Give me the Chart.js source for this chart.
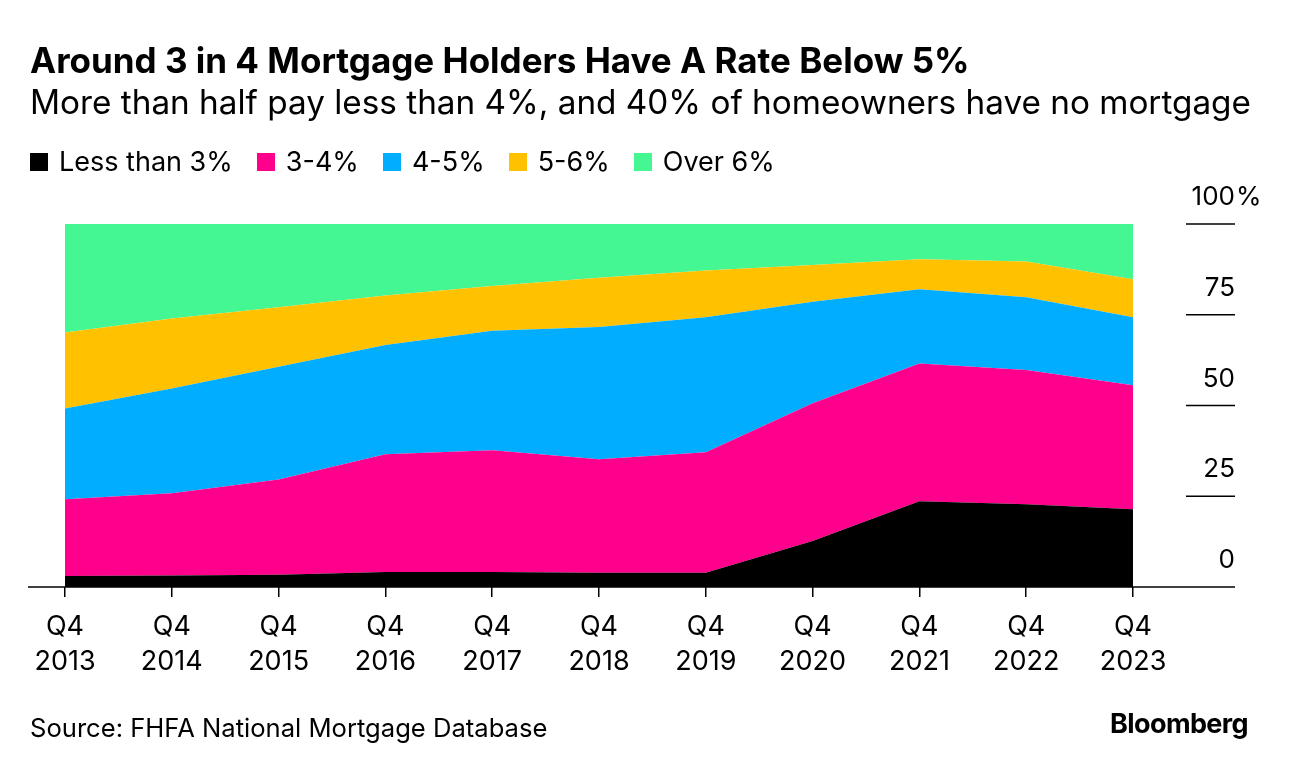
<!DOCTYPE html>
<html>
<head>
<meta charset="utf-8">
<script src="https://cdn.jsdelivr.net/npm/chart.js@4/dist/chart.umd.min.js"></script>
<style>
  html, body { margin: 0; padding: 0; background: #fff; }
  #wrap { position: relative; width: 1289px; height: 770px; overflow: hidden; font-family: Inter, "Liberation Sans", sans-serif; color: #000; }
  #chart { position: absolute; left: 0; top: 0; }
  .txt { position: absolute; white-space: nowrap; line-height: 1; }
  #title { left: 30px; top: 43px; font-size: 35px; font-weight: 700; letter-spacing: 0px; }
  #subtitle { left: 30px; top: 86px; font-size: 33.3px; }
  #legend { left: 30px; top: 148px; font-size: 27px; display: flex; align-items: center; }
  #legend .item { display: flex; align-items: center; margin-right: 24px; }
  #legend .box { width: 18px; height: 18px; margin-right: 11px; }
  #source { left: 30px; top: 715px; font-size: 25.6px; }
  #logo { left: 1110px; top: 710px; font-size: 27px; font-weight: 700; letter-spacing: -0.6px; }
</style>
</head>
<body>
<div id="wrap">
  <canvas id="chart" width="1289" height="770"></canvas>
  <div class="txt" id="title">Around 3 in 4 Mortgage Holders Have A Rate Below 5%</div>
  <div class="txt" id="subtitle">More than half pay less than 4%, and 40% of homeowners have no mortgage</div>
  <div class="txt" id="legend"></div>
  <div class="txt" id="source">Source: FHFA National Mortgage Database</div>
  <div class="txt" id="logo">Bloomberg</div>
</div>
<script>
// share of mortgage holders by rate bucket, %
const quarters = ['2013', '2014', '2015', '2016', '2017', '2018', '2019', '2020', '2021', '2022', '2023'];
const lessThan3 = [3.0, 3.2, 3.4, 4.1, 4.1, 3.9, 3.9, 12.7, 23.6, 22.8, 21.4];
const from3to4  = [21.2, 22.6, 26.2, 32.5, 33.6, 31.3, 33.2, 37.9, 38.0, 37.0, 34.2];
const from4to5  = [25.0, 28.9, 31.1, 30.1, 32.9, 36.4, 37.2, 28.0, 20.4, 20.0, 18.7];
const from5to6  = [20.9, 19.3, 16.4, 13.6, 12.3, 13.6, 12.9, 10.1, 8.3, 9.9, 10.5];
const over6     = [29.9, 26.0, 22.9, 19.7, 17.1, 14.8, 12.8, 11.3, 9.7, 10.3, 15.2];
const seriesNames = ['Less than 3%', '3-4%', '4-5%', '5-6%', 'Over 6%'];
const seriesColors = ['#000000', '#ff008c', '#00adff', '#ffc100', '#44f793'];
const yTicks = [0, 25, 50, 75, 100];

// html legend
const legendEl = document.getElementById('legend');
seriesNames.forEach((name, i) => {
  const item = document.createElement('div');
  item.className = 'item';
  item.innerHTML = '<span class="box" style="background:' + seriesColors[i] + '"></span><span>' + name + '</span>';
  legendEl.appendChild(item);
});

// right hand axis: short rules with labels sitting above them, plus the baseline
const axisPlugin = {
  id: 'axisDecor',
  afterDraw(chart) {
    const ctx = chart.ctx;
    const area = chart.chartArea;
    const y = chart.scales.y;
    const right = area.right + 102;
    ctx.save();
    ctx.strokeStyle = '#000';
    ctx.lineWidth = 1.5;
    ctx.fillStyle = '#000';
    ctx.font = '26px Inter, "Liberation Sans", sans-serif';
    ctx.textBaseline = 'alphabetic';
    yTicks.forEach(v => {
      const py = y.getPixelForValue(v);
      ctx.beginPath();
      if (v === 0) {
        ctx.moveTo(area.left - 37, py);
      } else {
        ctx.moveTo(area.right + 53, py);
      }
      ctx.lineTo(right, py);
      ctx.stroke();
      ctx.textAlign = 'right';
      ctx.fillText(String(v), right, py - 19);
      if (v === 100) {
        ctx.textAlign = 'left';
        ctx.fillText('%', right + 1, py - 19);
      }
    });
    ctx.restore();
  }
};

const seriesData = [lessThan3, from3to4, from4to5, from5to6, over6];

const chart = new Chart(document.getElementById('chart').getContext('2d'), {
  type: 'line',
  data: {
    labels: quarters.map(q => ['Q4', q]),
    datasets: seriesData.map((d, i) => ({
      label: seriesNames[i],
      data: d,
      backgroundColor: seriesColors[i],
      borderWidth: 0,
      pointRadius: 0,
      tension: 0,
      fill: i === 0 ? 'origin' : '-1'
    }))
  },
  options: {
    responsive: false,
    animation: false,
    layout: {
      padding: { left: 65, right: 156, top: 224, bottom: 91 }
    },
    plugins: {
      legend: { display: false },
      tooltip: { enabled: false }
    },
    scales: {
      x: {
        offset: false,
        grid: {
          display: true,
          drawOnChartArea: false,
          drawTicks: true,
          tickLength: 10,
          tickColor: '#000',
          lineWidth: 1.5
        },
        border: { display: false },
        ticks: {
          color: '#000',
          padding: 12,
          maxRotation: 0,
          autoSkip: false,
          font: { size: 27, family: 'Inter, "Liberation Sans", sans-serif', lineHeight: 1.3 }
        },
        afterFit(scale) { scale.height = 92; }
      },
      y: {
        display: false,
        stacked: true,
        min: 0,
        max: 100
      }
    }
  },
  plugins: [axisPlugin]
});
</script>
</body>
</html>
